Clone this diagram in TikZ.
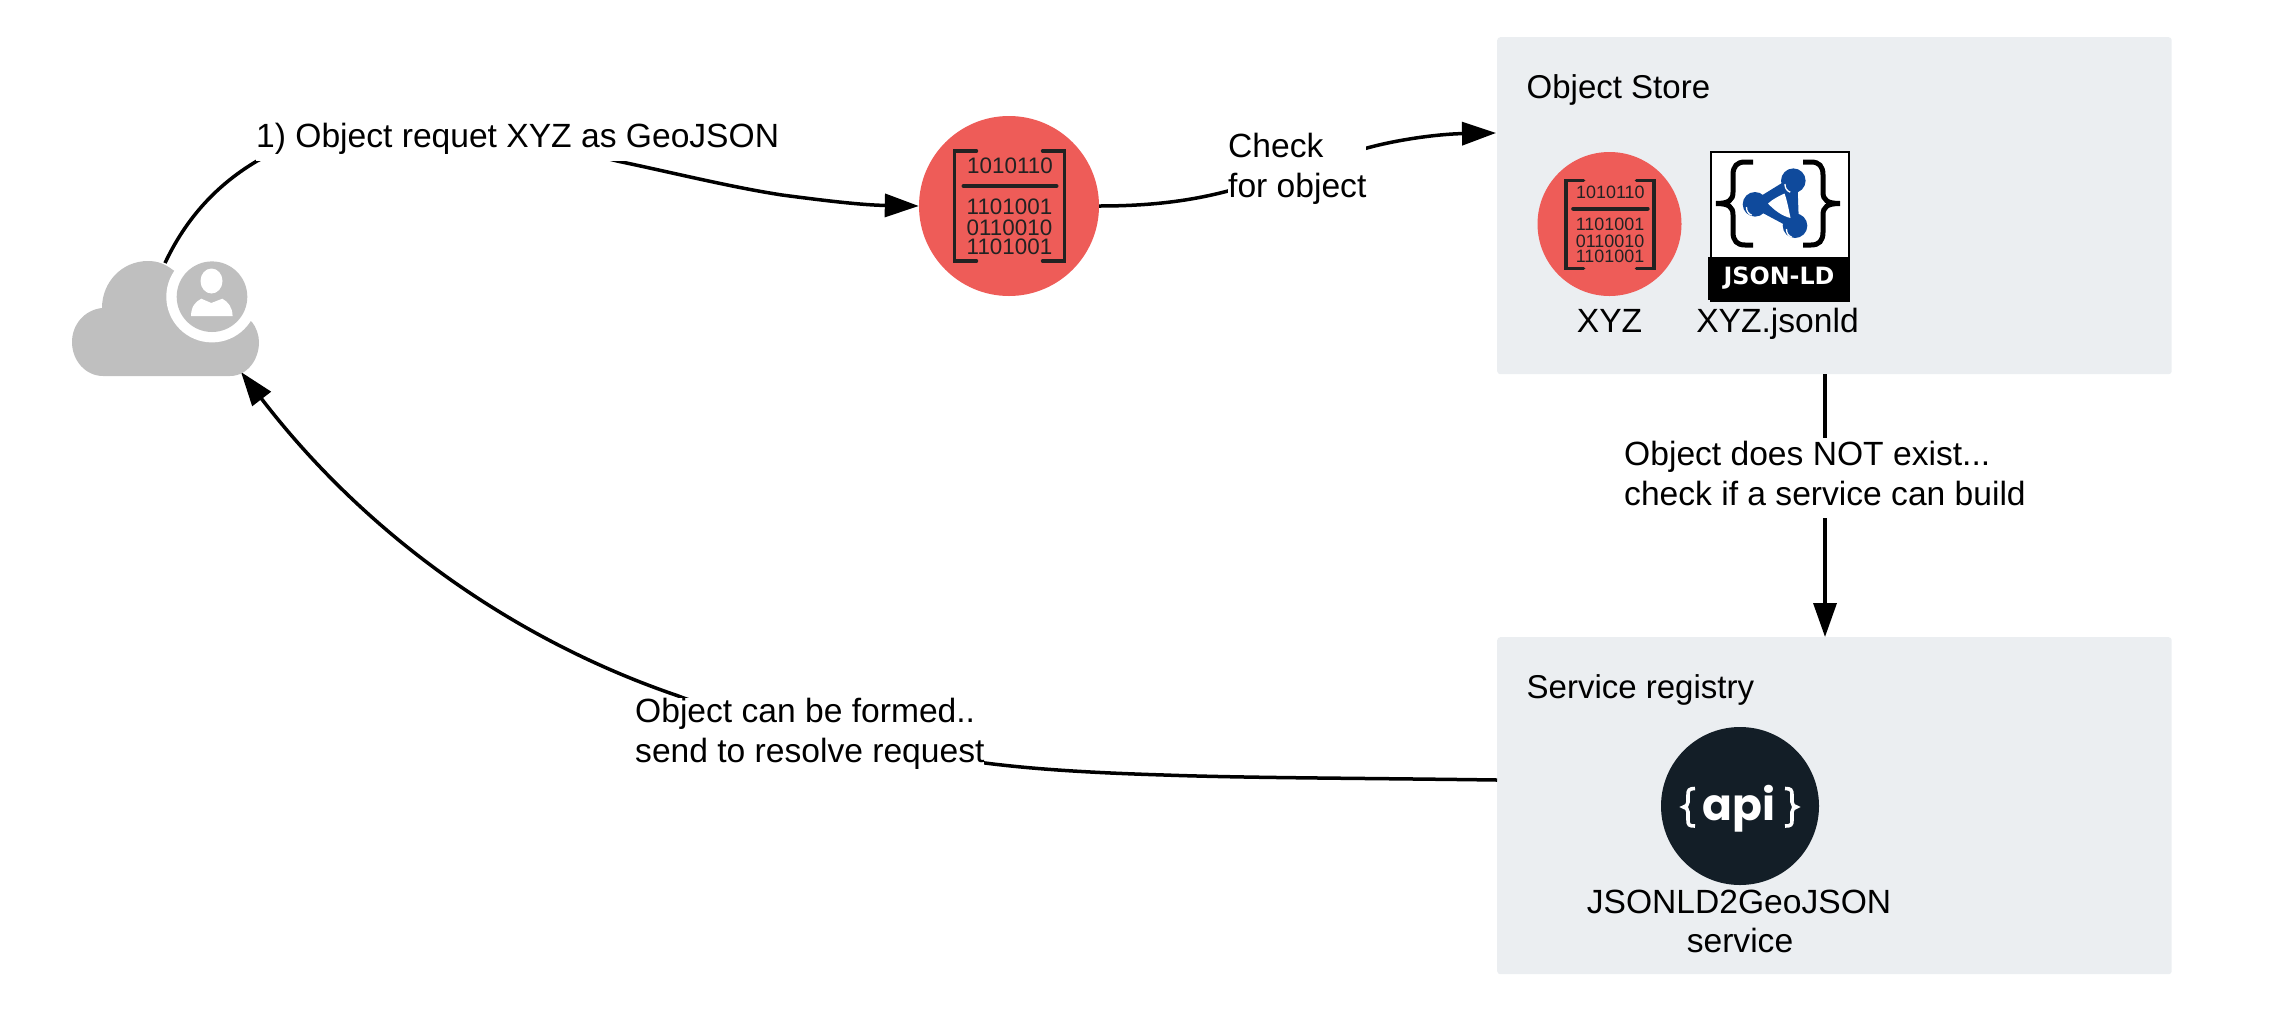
\documentclass[tikz,border=0pt]{standalone}
\usepackage{fontspec}
\setmainfont{Liberation Sans}
\newfontfamily\apifont{Poppins}
\newfontfamily\ldfont{DejaVu Sans}
\usetikzlibrary{arrows.meta}
\definecolor{panelbg}{HTML}{EBEEF1}
\definecolor{objred}{HTML}{EE5C58}
\definecolor{apidark}{HTML}{131E27}
\definecolor{cloudgray}{HTML}{BFBFBF}
\definecolor{ldblue}{HTML}{0F4A9C}
\definecolor{iconink}{HTML}{222222}
\tikzset{
  panel/.style={fill=panelbg,draw=none,rounded corners=3pt,minimum width=674.5pt,minimum height=337pt,inner sep=0pt,anchor=north west},
  redcircle/.style={circle,fill=objred,draw=none,inner sep=0pt},
  flow/.style={line width=3.5pt,draw=black},
  head/.style={-{Triangle[length=34pt,width=23pt]}},
  lbl/.style={font=\fontsize{33.6}{40}\selectfont,inner sep=0pt},
  cutlbl/.style={lbl,fill=white,align=left},
  title/.style={font=\fontsize{33}{40}\selectfont,inner sep=0pt,anchor=base west},
  bin/.style={font=\fontsize{22.4}{22}\selectfont,text=iconink,inner sep=0pt,anchor=base},
  binline/.style={line width=3.4pt,draw=iconink,line cap=round},
}
\newcommand{\binicon}[3]{%
  \begin{scope}[shift={(#1,#2)},scale=#3,transform shape]
    \draw[binline,line join=miter] (-33,-55) -- (-55,-55) -- (-55,55) -- (-33,55);
    \draw[binline,line join=miter] (33,-55) -- (55,-55) -- (55,55) -- (33,55);
    \draw[binline,line width=4pt] (-46,-20) -- (47,-20);
    \node[bin] (bt#1) at (0.5,-33) {1010110};
    \node[bin] (ba#1) at (0,8) {1101001};
    \node[bin] (bb#1) at (0,29) {0110010};
    \node[bin] (bc#1) at (0,48) {1101001};
  \end{scope}}
\begin{document}
\begin{tikzpicture}[x=1pt,y=-1pt]
\useasboundingbox (0,0) rectangle (2282,1018);
% panels
\node[panel] (store) at (1497,37) {};
\node[panel] (registry) at (1497,637) {};
\node[title] (storetitle) at (1526.5,98) {Object Store};
\node[title] (regtitle) at (1526.5,698) {Service registry};
% connector end points
\coordinate (cloudtop) at (165,263);
\coordinate (cloudbase) at (241,372);
\coordinate (storein) at (1496,133);
\coordinate (storeout) at (1825,374);
\coordinate (regin) at (1825,637);
\coordinate (regout) at (1497,780);
% big object circle
\node[redcircle,minimum size=180pt] (obj) at (1009,206) {};
% connectors
\draw[flow,head] (cloudtop) .. controls (190,210) and (225,180) .. (257,161)
   .. controls (300,135) and (500,130) .. (617,161)
   .. controls (670,172) and (730,187) .. (782,195)
   .. controls (820,200) and (860,205) .. (obj.west);
\draw[flow,head] (obj.east) .. controls (1150,206) and (1190,201) .. (1228,191)
   .. controls (1270,175) and (1330,158) .. (1367,148)
   .. controls (1400,139) and (1440,134) .. (storein);
\draw[flow,head] (storeout) -- (regin);
\draw[flow,head] (regout) .. controls (1350,778) and (1250,778) .. (1164,775)
   .. controls (1100,773) and (1040,770) .. (985,763)
   .. controls (900,750) and (760,727) .. (677,695.5)
   .. controls (520,642) and (370,540) .. (cloudbase);
% labels
\node[cutlbl,anchor=base west,inner ysep=7.5pt] (l1) at (256,147) {1) Object requet XYZ as GeoJSON};
\node[cutlbl,anchor=west] (l2) at (1228,168.5) {Check\\for object};
\node[cutlbl,anchor=west,inner ysep=3pt] (l3) at (1624,478) {Object does NOT exist...\\check if a service can build\rule[-10pt]{0pt}{10pt}};
\node[cutlbl,anchor=west] (l4) at (635,734) {Object can be formed..\\send to resolve request};
% cloud
\fill[cloudgray] (103,376) -- (230,376) .. controls (247,376) and (259,360) .. (259,342)
   .. controls (259,335) and (256,327) .. (252,322) -- (173,270)
   .. controls (165,264) and (158,261) .. (148,261)
   .. controls (122,261) and (102,282) .. (102,308)
   .. controls (84,310) and (72,325) .. (72,342)
   .. controls (72,361) and (86,376) .. (103,376) -- cycle;
\fill[white] (212,296.7) circle[radius=45.7];
\node[circle,fill=cloudgray,minimum size=70.6pt,inner sep=0pt] (user) at (212,296.7) {};
\fill[white] (211.5,281) ellipse[x radius=11,y radius=12.5];
\fill[white] (191,316) .. controls (191.3,306) and (195.3,302) .. (201.3,298.7) -- (211.3,303) -- (222.3,298.7)
   .. controls (228.3,302) and (232.3,307) .. (232.6,316) -- cycle;
% binary icons
\binicon{1009.5}{206}{1}
\node[redcircle,minimum size=144pt] (xyz) at (1609.5,224) {};
\binicon{1610}{224.5}{0.8}
\node[lbl,anchor=base] (xyzlbl) at (1609.5,332) {XYZ};
% JSON-LD icon
\node[draw=black,line width=2.4pt,fill=white,minimum width=138.5pt,minimum height=149pt,inner sep=0pt,anchor=north west] (ld) at (1709.5,150.5) {};
\fill[black] (1708.3,256.7) rectangle (1849,300);
\node[font=\ldfont\bfseries\fontsize{23.8}{24}\selectfont,text=white,inner sep=0pt,anchor=base] (ldtext) at (1779,284.5) {JSON-LD};
\draw[line width=5pt,black] (1753,162) -- (1745,162) .. controls (1737,162) and (1733,166) .. (1733,175) -- (1733,192)
   .. controls (1733,200) and (1729,203.5) .. (1716,203.5)
   .. controls (1729,203.5) and (1733,207) .. (1733,215) -- (1733,232) .. controls (1733,241) and (1737,245) .. (1745,245) -- (1753,245);
\draw[line width=5pt,black] (1803,162) -- (1811,162) .. controls (1819,162) and (1823,166) .. (1823,175) -- (1823,192)
   .. controls (1823,200) and (1827,203.5) .. (1840,203.5)
   .. controls (1827,203.5) and (1823,207) .. (1823,215) -- (1823,232) .. controls (1823,241) and (1819,245) .. (1811,245) -- (1803,245);
\fill[ldblue,draw=ldblue,line width=8pt,line join=round] (1793.3,180.7) -- (1755,204.3) -- (1795,225.7) -- cycle;
\fill[ldblue] (1793.3,180.7) circle[radius=12.3] (1755,204.3) circle[radius=12.3] (1795,225.7) circle[radius=12.3];
\fill[white] (1768,203.5) .. controls (1773,199) and (1779,196) .. (1784.5,193.5)
   .. controls (1787,200) and (1789,211) .. (1790.5,218)
   .. controls (1782,216) and (1774,210) .. (1768,203.5) -- cycle;
\draw[white,line width=1.3pt] (1785,184) arc[start angle=185,end angle=110,radius=8];
\draw[white,line width=1.3pt] (1746.5,207) arc[start angle=185,end angle=110,radius=8];
\draw[white,line width=1.3pt] (1786.5,229) arc[start angle=185,end angle=110,radius=8];
\node[lbl,anchor=base] (ldlbl) at (1777.5,332) {XYZ.jsonld};
% api icon
\node[circle,fill=apidark,minimum size=158pt,inner sep=0pt] (api) at (1740,806) {};
\node[font=\apifont\bfseries\fontsize{44}{44}\selectfont,text=white,inner sep=0pt,anchor=base] (apitext) at (1739,820) {api};
\draw[white,line width=3.6pt] (1695,788.5) .. controls (1689,788.5) and (1688,790) .. (1688,795) -- (1688,802)
   .. controls (1688,805) and (1686,806.5) .. (1683.5,807)
   .. controls (1686,807.5) and (1688,809) .. (1688,812) -- (1688,820) .. controls (1688,825) and (1689,826) .. (1695,826);
\draw[white,line width=3.6pt] (1785,788.5) .. controls (1791,788.5) and (1792,790) .. (1792,795) -- (1792,802)
   .. controls (1792,805) and (1794,806.5) .. (1796.5,807)
   .. controls (1794,807.5) and (1792,809) .. (1792,812) -- (1792,820) .. controls (1792,825) and (1791,826) .. (1785,826);
\node[lbl,anchor=base] (svc1) at (1739,913) {JSONLD2GeoJSON};
\node[lbl,anchor=base] (svc2) at (1740,952) {service};
\end{tikzpicture}
\end{document}
